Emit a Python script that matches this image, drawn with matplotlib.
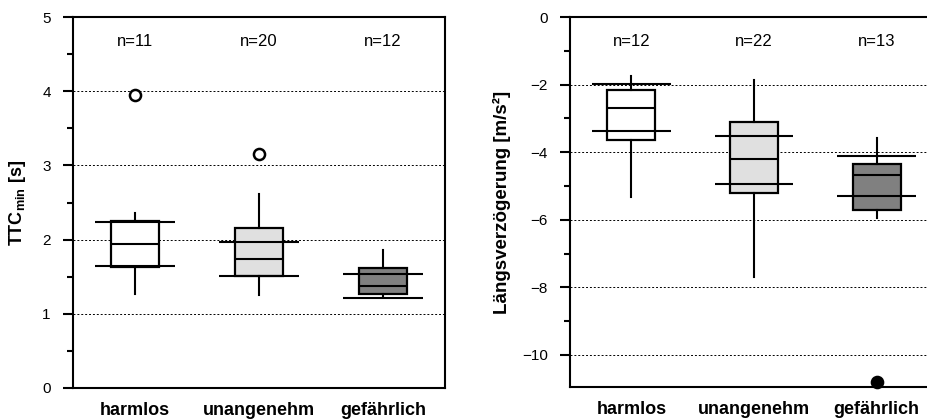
import matplotlib.pyplot as plt
from matplotlib.ticker import MultipleLocator

plt.rcParams['font.family'] = ['Liberation Sans', 'DejaVu Sans']
plt.rcParams['mathtext.fontset'] = 'custom'
plt.rcParams['mathtext.rm'] = 'Liberation Sans:bold'
plt.rcParams['mathtext.default'] = 'rm'

# Kategorien und Stichprobengroessen
kategorien = ['harmlos', 'unangenehm', 'gefährlich']
farben = ['#ffffff', '#e0e0e0', '#808080']

# TTC_min [s]
ttc_n = [11, 20, 12]
ttc_median = [1.94, 1.74, 1.37]
ttc_q1 = [1.63, 1.51, 1.27]
ttc_q3 = [2.25, 2.16, 1.62]
ttc_whislo = [1.27, 1.25, 1.22]
ttc_whishi = [2.36, 2.62, 1.86]
ttc_ausreisser = [[3.95], [3.15], []]
ttc_linie_oben = [2.24, 1.97, 1.54]
ttc_linie_unten = [1.64, 1.51, 1.21]

# Laengsverzoegerung [m/s²]
lv_n = [12, 22, 13]
lv_median = [-2.69, -4.21, -4.69]
lv_q1 = [-3.63, -5.22, -5.71]
lv_q3 = [-2.15, -3.12, -4.35]
lv_whislo = [-5.33, -7.69, -5.94]
lv_whishi = [-1.75, -1.87, -3.58]
lv_ausreisser = [[], [], [-10.8]]
lv_linie_oben = [-1.99, -3.52, -4.10]
lv_linie_unten = [-3.36, -4.93, -5.31]


def zeichne(ax, n, med, q1, q3, wlo, whi, ausr, l_oben, l_unten, gefuellt):
    stats = []
    for i in range(3):
        stats.append({'med': med[i], 'q1': q1[i], 'q3': q3[i],
                      'whislo': wlo[i], 'whishi': whi[i], 'fliers': ausr[i]})
    pos = [1, 2, 3]
    bp = ax.bxp(stats, positions=pos, widths=0.39, showcaps=False,
                patch_artist=True, showfliers=True,
                boxprops=dict(linewidth=1.6, edgecolor='black'),
                medianprops=dict(color='black', linewidth=1.5),
                whiskerprops=dict(color='black', linewidth=1.5),
                flierprops=dict(marker='o', markersize=8, markeredgewidth=1.8,
                                markeredgecolor='black',
                                markerfacecolor='black' if gefuellt else 'white'))
    for box, f in zip(bp['boxes'], farben):
        box.set_facecolor(f)
        box.set_zorder(3)
    for k in ['medians', 'whiskers', 'fliers']:
        for a in bp[k]:
            a.set_zorder(4)
    for fl in bp['fliers']:
        fl.set_clip_on(False)
    ax.hlines(l_oben, [p - 0.32 for p in pos], [p + 0.32 for p in pos],
              color='black', linewidth=1.5, zorder=5)
    ax.hlines(l_unten, [p - 0.32 for p in pos], [p + 0.32 for p in pos],
              color='black', linewidth=1.5, zorder=5)
    ax.set_xlim(0.5, 3.5)
    ax.set_xticks(pos)
    ax.set_xticklabels(kategorien, fontsize=13, fontweight='bold')
    ax.tick_params(axis='x', length=0, pad=10)
    ax.tick_params(axis='y', which='major', length=7, width=1.5, labelsize=11,
                   direction='out', pad=9)
    ax.tick_params(axis='y', which='minor', length=4, width=1.5, direction='out')
    for s in ax.spines.values():
        s.set_linewidth(1.5)
    for i in range(3):
        ax.text(pos[i], 0.935, 'n=%d' % n[i], transform=ax.get_xaxis_transform(),
                ha='center', va='center', fontsize=12)


fig = plt.figure(figsize=(9.28, 4.19), dpi=100)

# linkes Diagramm
ax1 = fig.add_axes([0.0787, 0.074, 0.4008, 0.8854])
zeichne(ax1, ttc_n, ttc_median, ttc_q1, ttc_q3, ttc_whislo, ttc_whishi,
        ttc_ausreisser, ttc_linie_oben, ttc_linie_unten, False)
ax1.set_ylim(0, 5)
ax1.yaxis.set_major_locator(MultipleLocator(1))
ax1.yaxis.set_minor_locator(MultipleLocator(0.5))
for g in [1, 2, 3, 4]:
    ax1.axhline(g, color='black', linestyle=(0, (2, 2)), linewidth=0.7, zorder=1)
ax1.set_ylabel('TTC$_{min}$ [s]', fontsize=13, fontweight='bold', labelpad=10)

# rechtes Diagramm (rechts abgeschnitten wie im Original)
ax2 = fig.add_axes([0.6142, 0.0764, 0.3966, 0.883])
zeichne(ax2, lv_n, lv_median, lv_q1, lv_q3, lv_whislo, lv_whishi,
        lv_ausreisser, lv_linie_oben, lv_linie_unten, True)
ax2.set_ylim(-10.95, 0)
ax2.yaxis.set_major_locator(MultipleLocator(2))
ax2.yaxis.set_minor_locator(MultipleLocator(1))
for g in [-2, -4, -6, -8, -10]:
    ax2.axhline(g, color='black', linestyle=(0, (2, 2)), linewidth=0.7, zorder=1)
ax2.set_ylabel('Längsverzögerung [m/s²]', fontsize=13.5, fontweight='bold', labelpad=8)

fig.savefig('out.png', dpi=100)
